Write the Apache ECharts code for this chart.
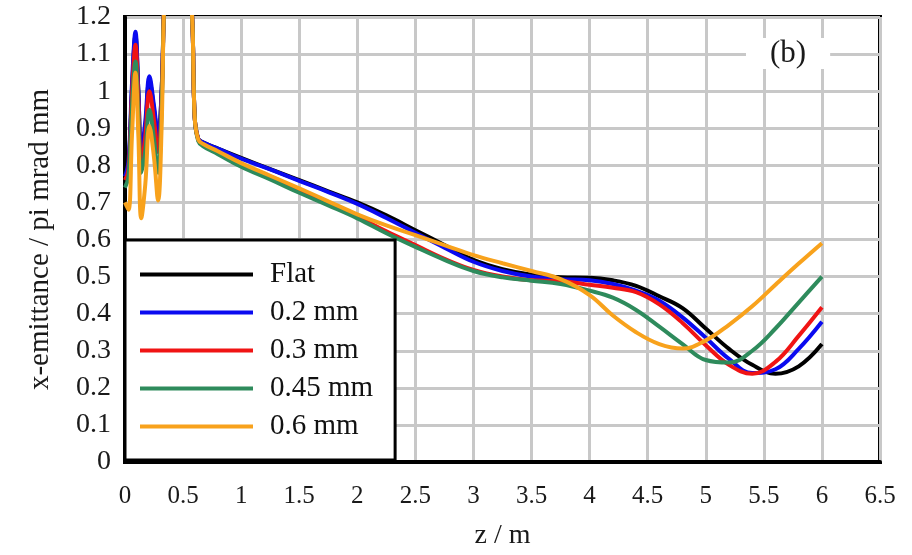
<!DOCTYPE html>
<html lang="en">
<head>
    <meta charset="UTF-8">
    <title>x-emittance</title>
    <script src="https://cdn.jsdelivr.net/npm/echarts@6/dist/echarts.min.js"></script>
    <style type="text/css">
        html, body { margin: 0; height: 100%; background: #fff; }
        #chart { width: 912px; height: 555px; }
    </style>
</head>
<body>
    <div id="chart"></div>
    <script type="text/javascript">
        // z positions (m)
        var zPts = [0, 0.03, 0.06, 0.09, 0.115, 0.14, 0.175, 0.21, 0.25, 0.285, 0.315, 0.345,
            0.45, 0.575, 0.6, 0.63, 0.67, 0.8,
            1.0, 1.25, 1.5, 1.75, 2.0, 2.25, 2.5, 2.75, 3.0, 3.25,
            3.5, 3.75, 4.0,
            4.2, 4.4, 4.6, 4.8, 5.0, 5.2, 5.4, 5.6, 5.8, 6.0];

        var flat = [0.76, 0.80, 1.00, 1.15, 1.00, 0.83, 0.90, 1.03, 0.95, 0.87, 1.00, 1.30,
            1.80, 1.22, 0.93, 0.872, 0.862, 0.845,
            0.82, 0.79, 0.76, 0.73, 0.70, 0.665, 0.625, 0.585, 0.545, 0.52,
            0.505, 0.498, 0.497,
            0.49, 0.475, 0.447, 0.415, 0.36, 0.305, 0.262, 0.238, 0.258, 0.318];
        var mm02 = [0.77, 0.81, 1.02, 1.16, 1.00, 0.835, 0.92, 1.04, 0.96, 0.88, 1.00, 1.30,
            1.80, 1.22, 0.93, 0.872, 0.862, 0.845,
            0.818, 0.789, 0.758, 0.728, 0.696, 0.658, 0.618, 0.578, 0.54, 0.515,
            0.50, 0.493, 0.49,
            0.48, 0.462, 0.435, 0.39, 0.335, 0.278, 0.24, 0.25, 0.305, 0.378];
        var mm03 = [0.76, 0.79, 0.99, 1.125, 0.97, 0.80, 0.88, 1.00, 0.92, 0.836, 0.97, 1.30,
            1.80, 1.22, 0.93, 0.87, 0.856, 0.836,
            0.80, 0.77, 0.732, 0.698, 0.662, 0.622, 0.585, 0.548, 0.518, 0.50,
            0.49, 0.488, 0.478,
            0.47, 0.458, 0.425, 0.375, 0.315, 0.262, 0.238, 0.27, 0.34, 0.417];
        var mm045 = [0.74, 0.77, 0.96, 1.08, 0.93, 0.78, 0.84, 0.95, 0.87, 0.78, 0.95, 1.30,
            1.80, 1.22, 0.93, 0.866, 0.852, 0.83,
            0.796, 0.762, 0.726, 0.692, 0.657, 0.617, 0.58, 0.545, 0.515, 0.498,
            0.489, 0.48, 0.462,
            0.443, 0.41, 0.365, 0.318, 0.275, 0.268, 0.30, 0.36, 0.43, 0.50];
        var mm06 = [0.70, 0.68, 0.88, 1.05, 0.88, 0.657, 0.75, 0.906, 0.82, 0.705, 0.90, 1.30,
            1.80, 1.22, 0.93, 0.87, 0.858, 0.838,
            0.806, 0.772, 0.738, 0.703, 0.668, 0.638, 0.612, 0.585, 0.558, 0.536,
            0.515, 0.493, 0.45,
            0.395, 0.35, 0.318, 0.306, 0.328, 0.37, 0.42, 0.478, 0.535, 0.59];

        var names = ['Flat', '0.2 mm', '0.3 mm', '0.45 mm', '0.6 mm'];
        var values = [flat, mm02, mm03, mm045, mm06];
        var colors = ['#000000', '#0a0af0', '#f01414', '#2e8b5c', '#f8a21c'];

        var xTicks = [0, 6.5, 0.5];
        var yTicks = [0, 1.2, 0.1];

        var serif = '"Liberation Serif", "DejaVu Serif", serif';

        function pairs(ys) {
            var out = [];
            for (var i = 0; i < zPts.length; i++) {
                out.push([zPts[i], ys[i]]);
            }
            return out;
        }

        var series = [];
        for (var i = 0; i < names.length; i++) {
            series.push({
                name: names[i],
                type: 'line',
                data: pairs(values[i]),
                symbol: 'none',
                smooth: 0.4,
                clip: true,
                lineStyle: { color: colors[i], width: 4 },
                itemStyle: { color: colors[i] }
            });
        }

        var myChart = echarts.init(document.getElementById('chart'));
        var option = {
            backgroundColor: '#ffffff',
            animation: false,
            color: colors,
            grid: {
                left: 125,
                right: 32,
                top: 17,
                bottom: 89,
                show: true,
                borderColor: '#000',
                borderWidth: 4,
                backgroundColor: 'transparent'
            },
            xAxis: {
                type: 'value',
                min: xTicks[0],
                max: xTicks[1],
                interval: xTicks[2],
                name: 'z / m',
                nameLocation: 'middle',
                nameGap: 60,
                nameTextStyle: { fontFamily: serif, fontSize: 28, color: '#1a1a1a' },
                axisLine: { show: true, onZero: false, lineStyle: { color: '#000', width: 4 } },
                axisTick: { show: false },
                axisLabel: { fontFamily: serif, fontSize: 25, color: '#1a1a1a', margin: 22 },
                splitLine: { show: true, lineStyle: { color: '#c8c8c8', width: 3 } }
            },
            yAxis: {
                type: 'value',
                min: yTicks[0],
                max: yTicks[1],
                interval: yTicks[2],
                name: 'x-emittance / pi mrad mm',
                nameLocation: 'middle',
                nameGap: 70,
                nameTextStyle: { fontFamily: serif, fontSize: 29, color: '#1a1a1a' },
                axisLine: { show: true, lineStyle: { color: '#000', width: 4 } },
                axisTick: { show: false },
                axisLabel: { fontFamily: serif, fontSize: 28, color: '#1a1a1a', margin: 14 },
                splitLine: { show: true, lineStyle: { color: '#c8c8c8', width: 3 } }
            },
            legend: {
                data: names,
                orient: 'vertical',
                left: 125,
                top: 240,
                padding: [20, 22, 19, 15],
                itemGap: 9,
                itemWidth: 113,
                itemHeight: 4,
                icon: 'rect',
                backgroundColor: '#fff',
                borderColor: '#000',
                borderWidth: 3,
                borderRadius: 0,
                textStyle: {
                    fontFamily: serif,
                    fontSize: 29,
                    lineHeight: 28,
                    color: '#111',
                    padding: [0, 0, 0, 12]
                }
            },
            graphic: [
                {
                    type: 'text',
                    left: 746,
                    top: 38,
                    z: 100,
                    style: {
                        text: '(b)',
                        font: '31px ' + serif,
                        fill: '#1a1a1a',
                        backgroundColor: '#fff',
                        padding: [0, 24, 0, 24]
                    }
                }
            ],
            series: series
        };
        myChart.setOption(option);
    </script>
</body>
</html>
